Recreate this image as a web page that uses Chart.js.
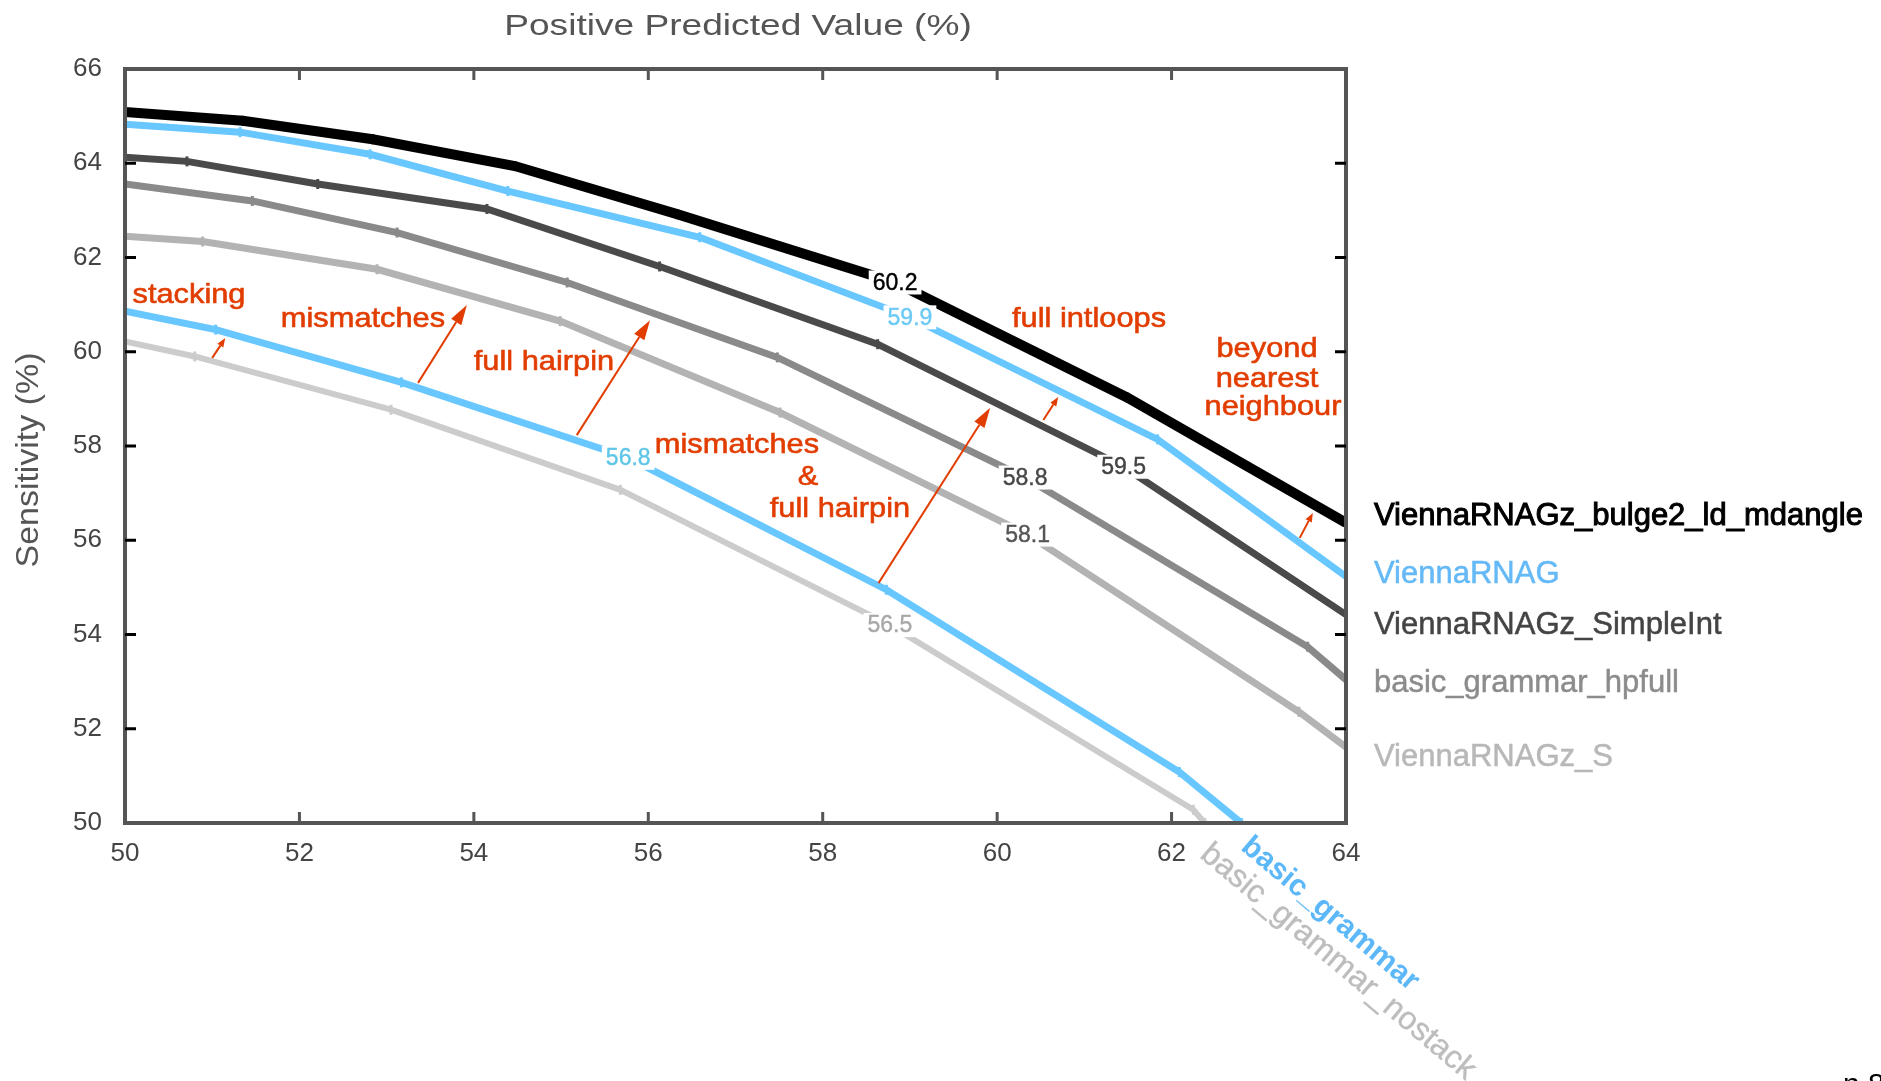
<!DOCTYPE html>
<html>
<head>
<meta charset="utf-8">
<title>Sensitivity vs Positive Predicted Value</title>
<script src="https://cdn.jsdelivr.net/npm/chart.js@4.4.1/dist/chart.umd.min.js"></script>
<style>
    html, body { margin: 0; padding: 0; background: #fff; }
    canvas { display: block; }
</style>
</head>
<body>
<canvas id="ppvChart" width="1881" height="1081"></canvas>
<script>
// x = positive predicted value (%), y = sensitivity (%)
var ppvBulge = [50, 51.35, 52.84, 54.47, 56.33, 58.83, 61.49, 64];
var sensBulge = [65.09, 64.9, 64.51, 63.94, 62.92, 61.47, 59.03, 56.37];

var ppvViennaG = [50, 51.32, 52.81, 54.39, 56.59, 59.0, 61.84, 64];
var sensViennaG = [64.83, 64.66, 64.19, 63.41, 62.43, 60.73, 58.14, 55.23];

var ppvSimpleInt = [50, 50.71, 52.21, 54.15, 56.13, 58.63, 61.45, 64];
var sensSimpleInt = [64.13, 64.04, 63.56, 63.03, 61.81, 60.16, 57.56, 54.42];

var ppvHpfull = [50, 51.46, 53.12, 55.07, 57.48, 60.32, 63.56, 64];
var sensHpfull = [63.56, 63.2, 62.53, 61.47, 59.88, 57.33, 53.74, 53.04];

var ppvViennaS = [50, 50.89, 52.89, 54.99, 57.51, 60.35, 63.46, 64];
var sensViennaS = [62.45, 62.34, 61.75, 60.65, 58.71, 56.12, 52.36, 51.61];

var ppvBasic = [50, 51.04, 53.17, 55.77, 58.73, 62.09, 62.8];
var sensBasic = [60.86, 60.47, 59.35, 57.75, 54.95, 51.08, 50.0];

var ppvNostack = [50, 50.8, 53.05, 55.68, 58.77, 62.25, 62.38];
var sensNostack = [60.22, 59.9, 58.77, 57.07, 54.2, 50.28, 50.0];

var seriesNames = ["ViennaRNAGz_bulge2_ld_mdangle", "ViennaRNAG", "ViennaRNAGz_SimpleInt",
    "basic_grammar_hpfull", "ViennaRNAGz_S", "basic_grammar", "basic_grammar_nostack"];

// value written on each curve and the point it sits on
var curveLabels = ["60.2", "59.9", "59.5", "58.8", "58.1", "56.8", "56.5"];
var curveLabelIndex = [5, 5, 6, 5, 5, 3, 4];

var xTicks = [50, 52, 54, 56, 58, 60, 62, 64];
var yTicks = [50, 52, 54, 56, 58, 60, 62, 64, 66];

// red arrows (tail -> head), in data units
var arrowTailPpv = [51.0, 53.36, 55.18, 58.64, 60.53, 63.47];
var arrowTailSens = [59.87, 59.34, 58.23, 55.09, 58.55, 56.05];
var arrowHeadPpv = [51.15, 53.92, 56.02, 59.92, 60.70, 63.62];
var arrowHeadSens = [60.29, 60.99, 60.67, 58.81, 59.04, 56.58];
var arrowIsBig = [false, true, true, true, false, false];

// ---- styling ----
var FONT = '"Liberation Sans", Arial, Helvetica, sans-serif';
var RED = "#e23d00";
var lineColors = ["#000000", "#68c7ff", "#4a4a4a", "#8a8a8a", "#b3b3b3", "#68c7ff", "#cccccc"];
var lineWidths = [10, 7, 7, 7, 7, 7, 6];
var labelColors = ["#000000", "#6ccaf5", "#444444", "#474747", "#555555", "#5ec6e6", "#a8a8a8"];
var legendColors = ["#000000", "#64b9f6", "#444444", "#8c8c8c", "#b8b8b8"];
var legendBaselines = [525, 583, 634, 692, 766];

var redTexts = [
    ["stacking", 189, 303],
    ["mismatches", 363, 327],
    ["full hairpin", 544, 370],
    ["mismatches", 737, 453],
    ["&", 808, 485],
    ["full hairpin", 840, 517],
    ["full intloops", 1089, 327],
    ["beyond", 1267, 357],
    ["nearest", 1267, 387],
    ["neighbour", 1273, 415]
];

function drawText(ctx, text, x, y, o) {
    ctx.save();
    ctx.translate(x, y);
    if (o.rotate) ctx.rotate(o.rotate);
    ctx.scale(o.sx || 1, 1);
    ctx.font = o.font;
    ctx.fillStyle = o.color;
    ctx.textAlign = o.align || "center";
    ctx.textBaseline = o.baseline || "alphabetic";
    ctx.fillText(text, 0, 0);
    if (o.heavy) {
        ctx.strokeStyle = o.color;
        ctx.lineWidth = o.heavy;
        ctx.strokeText(text, 0, 0);
    }
    ctx.restore();
}

function drawArrow(ctx, x1, y1, x2, y2, headLen, headW) {
    var ang = Math.atan2(y2 - y1, x2 - x1);
    var bx = x2 - headLen * Math.cos(ang);
    var by = y2 - headLen * Math.sin(ang);
    ctx.beginPath();
    ctx.moveTo(x1, y1);
    ctx.lineTo(bx, by);
    ctx.stroke();
    ctx.beginPath();
    ctx.moveTo(x2, y2);
    ctx.lineTo(bx + headW * Math.sin(ang), by - headW * Math.cos(ang));
    ctx.lineTo(bx - headW * Math.sin(ang), by + headW * Math.cos(ang));
    ctx.closePath();
    ctx.fill();
}

var seriesPpv = [ppvBulge, ppvViennaG, ppvSimpleInt, ppvHpfull, ppvViennaS, ppvBasic, ppvNostack];
var seriesSens = [sensBulge, sensViennaG, sensSimpleInt, sensHpfull, sensViennaS, sensBasic, sensNostack];

var datasets = [];
for (var i = 0; i < seriesNames.length; i++) {
    var pts = seriesPpv[i].map(function (x, j) { return { x: x, y: seriesSens[i][j] }; });
    var radii = pts.map(function (p, j) { return j == curveLabelIndex[i] ? 0 : 5; });
    datasets.push({
        label: seriesNames[i],
        data: pts,
        borderColor: lineColors[i],
        borderWidth: lineWidths[i],
        pointStyle: "line",
        pointRotation: 90,
        pointRadius: radii,
        pointBorderWidth: 3,
        pointBorderColor: lineColors[i],
        pointBackgroundColor: lineColors[i],
        tension: 0,
        clip: 0,
        fill: false
    });
}

var whiteBg = {
    id: "whiteBg",
    beforeDraw: function (chart) {
        var ctx = chart.ctx;
        ctx.save();
        ctx.fillStyle = "#fff";
        ctx.fillRect(0, 0, chart.width, chart.height);
        ctx.restore();
    }
};

var decorations = {
    id: "decorations",
    afterDatasetsDraw: function (chart) {
        var ctx = chart.ctx;
        var xs = chart.scales.x, ys = chart.scales.y;
        var a = chart.chartArea;

        // values written on the curves
        ctx.save();
        ctx.font = "23px " + FONT;
        for (var i = 0; i < curveLabels.length; i++) {
            var k = curveLabelIndex[i];
            var px = xs.getPixelForValue(seriesPpv[i][k]);
            var py = ys.getPixelForValue(seriesSens[i][k]);
            var w = ctx.measureText(curveLabels[i]).width;
            ctx.fillStyle = "#fff";
            ctx.fillRect(px - w / 2 - 4, py - 12, w + 8, 24);
            drawText(ctx, curveLabels[i], px, py + 1, { font: "23px " + FONT, color: labelColors[i], baseline: "middle", heavy: 0.4 });
        }
        ctx.restore();

        // red arrows
        ctx.save();
        ctx.strokeStyle = RED;
        ctx.fillStyle = RED;
        ctx.lineWidth = 2;
        for (var j = 0; j < arrowTailPpv.length; j++) {
            drawArrow(ctx,
                xs.getPixelForValue(arrowTailPpv[j]), ys.getPixelForValue(arrowTailSens[j]),
                xs.getPixelForValue(arrowHeadPpv[j]), ys.getPixelForValue(arrowHeadSens[j]),
                arrowIsBig[j] ? 20 : 9, arrowIsBig[j] ? 6 : 3.5);
        }
        ctx.restore();

        redTexts.forEach(function (t) {
            drawText(ctx, t[0], t[1], t[2], { font: "28px " + FONT, color: RED, sx: 1.1, heavy: 0.6 });
        });

        // frame
        ctx.save();
        ctx.strokeStyle = "#555";
        ctx.lineWidth = 4;
        ctx.strokeRect(a.left, a.top, a.right - a.left, a.bottom - a.top);

        // inward ticks
        ctx.lineWidth = 3;
        xTicks.forEach(function (v) {
            if (v == xs.min || v == xs.max) return;
            var px = xs.getPixelForValue(v);
            ctx.strokeStyle = "#555";
            ctx.beginPath();
            ctx.moveTo(px, a.bottom); ctx.lineTo(px, a.bottom - 11);
            ctx.moveTo(px, a.top); ctx.lineTo(px, a.top + 11);
            ctx.stroke();
        });
        yTicks.forEach(function (v) {
            if (v == ys.min || v == ys.max) return;
            var py = ys.getPixelForValue(v);
            ctx.strokeStyle = "#000";
            ctx.beginPath();
            ctx.moveTo(a.left, py); ctx.lineTo(a.left + 11, py);
            ctx.moveTo(a.right, py); ctx.lineTo(a.right - 11, py);
            ctx.stroke();
        });
        ctx.restore();
    },
    afterDraw: function (chart) {
        var ctx = chart.ctx;
        drawText(ctx, "Positive Predicted Value (%)", 738, 35, { font: "29px " + FONT, color: "#555", sx: 1.28 });
        drawText(ctx, "Sensitivity (%)", 29, 460, { font: "32px " + FONT, color: "#555", sx: 1.06, rotate: -Math.PI / 2, baseline: "middle" });

        for (var i = 0; i < 5; i++) {
            drawText(ctx, seriesNames[i], 1374, legendBaselines[i], { font: "31px " + FONT, color: legendColors[i], align: "left", heavy: i == 0 ? 1 : 0.5 });
        }
        var rot = 40 * Math.PI / 180;
        drawText(ctx, seriesNames[5], 1330, 914, { font: "bold 30px " + FONT, color: "#5cb8f8", rotate: rot, baseline: "middle" });
        drawText(ctx, seriesNames[6], 1338, 962, { font: "32px " + FONT, color: "#bdbdbd", rotate: rot, baseline: "middle", heavy: 0.4 });

        drawText(ctx, "n 8", 1843, 1071, { font: "30px " + FONT, color: "#000", align: "left", baseline: "top" });
    }
};

var ctx = document.getElementById("ppvChart").getContext("2d");
var ppvChart = new Chart(ctx, {
    type: "line",
    data: { datasets: datasets },
    plugins: [whiteBg, decorations],
    options: {
        responsive: false,
        animation: false,
        devicePixelRatio: 1,
        layout: { padding: { left: 0, top: 69, right: 535, bottom: 208 } },
        plugins: { legend: { display: false }, tooltip: { enabled: false } },
        scales: {
            x: {
                type: "linear",
                min: 50,
                max: 64,
                afterBuildTicks: function (s) { s.ticks = xTicks.map(function (v) { return { value: v }; }); },
                afterFit: function (s) { s.height = 50; },
                grid: { display: false },
                border: { display: false },
                ticks: { color: "#444", padding: 7, maxRotation: 0, autoSkip: false, font: { family: FONT, size: 26 } }
            },
            y: {
                type: "linear",
                min: 50,
                max: 66,
                afterBuildTicks: function (s) { s.ticks = yTicks.map(function (v) { return { value: v }; }); },
                afterFit: function (s) { s.width = 125; },
                grid: { display: false },
                border: { display: false },
                ticks: { color: "#444", padding: 15, autoSkip: false, font: { family: FONT, size: 26 } }
            }
        }
    }
});
</script>
</body>
</html>
